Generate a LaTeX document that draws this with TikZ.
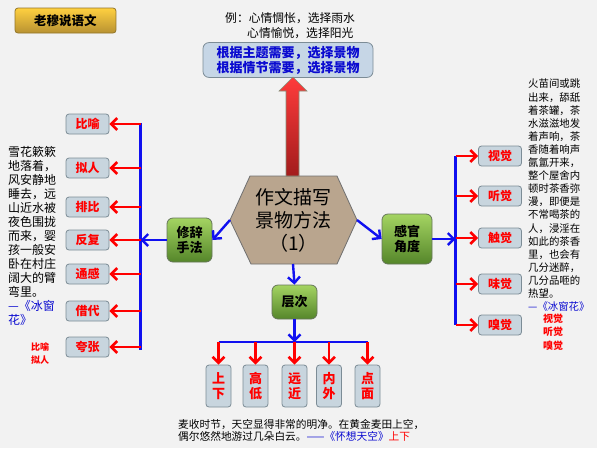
\documentclass[tikz,border=0pt]{standalone}
\usepackage{fontspec}
\setmainfont{Noto Sans CJK SC}
\usetikzlibrary{arrows.meta}
\definecolor{bgcol}{HTML}{F2F2F2}
\definecolor{boxfill}{HTML}{C8D5DE}
\definecolor{boxline}{HTML}{7C8C96}
\definecolor{goalfill}{HTML}{C6D6E6}
\definecolor{textblue}{HTML}{0A0AD0}
\definecolor{lineblue}{HTML}{1010F0}
\definecolor{ghi}{HTML}{A4D462}
\definecolor{glo}{HTML}{55862A}
\definecolor{gline}{HTML}{66765A}
\definecolor{hexfill}{HTML}{B9A58E}
\definecolor{hexline}{HTML}{707070}
\definecolor{goldhi}{HTML}{FFD040}
\definecolor{goldlo}{HTML}{B89232}
\definecolor{arrhi}{HTML}{FF3C3C}
\definecolor{arrlo}{HTML}{A21C1C}
\tikzset{
	lbox/.style={draw=boxline, fill=boxfill, rounded corners=3pt, line width=0.8pt, minimum width=43pt, minimum height=20pt, inner sep=0pt, text=red, font=\bfseries\fontsize{12}{12}\selectfont},
	vbox/.style={lbox, minimum width=25pt, minimum height=42pt, align=center, font=\bfseries\fontsize{13}{15}\selectfont},
	gbox/.style={draw=gline, top color=ghi, bottom color=glo, rounded corners=6pt, line width=0.8pt, inner sep=0pt, align=center, font=\bfseries\fontsize{13}{15}\selectfont},
	barline/.style={draw=lineblue, line width=2.4pt},
	bluearr/.style={barline, -{Straight Barb[length=6pt,width=12pt]}},
	redarr/.style={draw=red, line width=2.6pt, -{Straight Barb[length=6pt,width=12pt]}},
}
\begin{document}
\begin{tikzpicture}[x=1pt,y=-1pt]
	\useasboundingbox (0,0) rectangle (597,448);
	\fill[bgcol] (0,0) rectangle (597,448);
	% title and example
	\node (ttl) at (65.5,20.5) [draw=goldlo!80!black, top color=goldhi, bottom color=goldlo, rounded corners=3pt, line width=0.8pt, minimum width=101pt, minimum height=25pt, font=\bfseries\fontsize{12.5}{13}\selectfont] {老穆说语文};
	\node (ex1) at (225,18) [anchor=west, inner sep=0pt, font=\fontsize{11.8}{12}\selectfont] {例：心情惆怅，选择雨水};
	\node (ex2) at (247,33) [anchor=west, inner sep=0pt, font=\fontsize{11.8}{12}\selectfont] {心情愉悦，选择阳光};
	\node (goal) at (288,60) [draw=boxline, fill=goalfill, rounded corners=6pt, line width=0.8pt, minimum width=170pt, minimum height=34pt, align=center, text=textblue, font=\bfseries\fontsize{13}{15}\selectfont] {根据主题需要，选择景物\\根据情节需要，选择景物};
	% hexagon
	\coordinate (hexL) at (230,220);
	\coordinate (hexTL) at (250,176);
	\coordinate (hexTR) at (337,176);
	\coordinate (hexR) at (357,220);
	\coordinate (hexBR) at (337,264);
	\coordinate (hexBL) at (251,264);
	\coordinate (hexB) at (293,264);
	\draw[draw=hexline, fill=hexfill, line width=0.8pt] (hexL) -- (hexTL) -- (hexTR) -- (hexR) -- (hexBR) -- (hexBL) -- cycle;
	\node (hex) at (293.5,220) [align=center, font=\fontsize{19}{23}\selectfont] {作文描写\\景物方法\\（1）};
	% big arrow up
	\draw[draw=gline!80, top color=arrhi, bottom color=arrlo, line width=0.6pt] (286,176) -- (286,91) -- (279,91) -- (293,77) -- (307,91) -- (299,91) -- (299,176) -- cycle;
	% three branches
	\node (xiuci) at (189.5,240) [gbox, minimum width=45pt, minimum height=44pt] {修辞\\手法};
	\node (ganguan) at (407,239) [gbox, minimum width=50pt, minimum height=50pt] {感官\\角度};
	\node (cengci) at (294.5,302) [gbox, minimum width=45pt, minimum height=34pt] {层次};
	\draw[bluearr] (hexL) -- (xiuci.east);
	\draw[bluearr] (hexR) -- (ganguan.west);
	\draw[bluearr] (hexB) -- (cengci.north);
	% left side
	\node (b1) at (87.5,124) [lbox] {比喻};
	\node (b2) at (87.5,168) [lbox] {拟人};
	\node (b3) at (87.5,207) [lbox] {排比};
	\node (b4) at (87.5,240) [lbox] {反复};
	\node (b5) at (87.5,274) [lbox] {通感};
	\node (b6) at (87.5,311) [lbox] {借代};
	\node (b7) at (87.5,347) [lbox] {夸张};
	\coordinate (lt) at (140.5,123);
	\coordinate (lb) at (140.5,350);
	\draw[barline] (lt) -- (lb);
	\draw[bluearr] (xiuci.west) -- (lt |- xiuci.west);
	\draw[redarr] (lt |- b1.east) -- (b1.east);
	\draw[redarr] (lt |- b2.east) -- (b2.east);
	\draw[redarr] (lt |- b3.east) -- (b3.east);
	\draw[redarr] (lt |- b4.east) -- (b4.east);
	\draw[redarr] (lt |- b5.east) -- (b5.east);
	\draw[redarr] (lt |- b6.east) -- (b6.east);
	\draw[redarr] (lt |- b7.east) -- (b7.east);
	\node (ltxt) at (8,146) [anchor=north west, inner sep=0pt, align=left, font=\fontsize{12}{14}\selectfont] {雪花簌簌\\地落着，\\风安静地\\睡去，远\\山近水被\\夜色围拢\\而来，婴\\孩一般安\\卧在村庄\\阔大的臂\\弯里。\\{\color{textblue}—《冰窗}\\{\color{textblue}花》}};
	\node (lnote) at (40,354) [align=center, text=red, font=\bfseries\fontsize{9}{13}\selectfont] {比喻\\拟人};
	% right side
	\node (s1) at (500,156) [lbox] {视觉};
	\node (s2) at (500,196) [lbox] {听觉};
	\node (s3) at (500,238) [lbox] {触觉};
	\node (s4) at (500,284) [lbox] {味觉};
	\node (s5) at (500,325) [lbox] {嗅觉};
	\coordinate (rt) at (455.5,156);
	\coordinate (rb) at (455.5,325);
	\draw[barline] (rt) -- (rb);
	\draw[bluearr] (ganguan.east) -- (rt |- ganguan.east);
	\draw[redarr] (rt |- s1.west) -- (s1.west);
	\draw[redarr] (rt |- s2.west) -- (s2.west);
	\draw[redarr] (rt |- s3.west) -- (s3.west);
	\draw[redarr] (rt |- s4.west) -- (s4.west);
	\draw[redarr] (rt |- s5.west) -- (s5.west);
	\node (rtxt) at (528,79) [anchor=north west, inner sep=0pt, align=left, font=\fontsize{10.4}{13.1}\selectfont] {火苗间或跳\\出来，舔舐\\着茶罐，茶\\水滋滋地发\\着声响，茶\\香随着响声\\氤氲开来，\\整个屋舍内\\顿时茶香弥\\漫，即便是\\不常喝茶的\\人，浸淫在\\如此的茶香\\里，也会有\\几分迷醉，\\几分品咂的\\热望。\\{\color{textblue}—《冰窗花》}};
	\node (rnote) at (553,332) [align=center, text=red, font=\bfseries\fontsize{10}{13.5}\selectfont] {视觉\\听觉\\嗅觉};
	% bottom
	\node (c1) at (218.5,386) [vbox] {上\\下};
	\node (c2) at (255.5,386) [vbox] {高\\低};
	\node (c3) at (294.5,386) [vbox] {远\\近};
	\node (c4) at (329,386) [vbox] {内\\外};
	\node (c5) at (367.5,386) [vbox] {点\\面};
	\coordinate (hl) at (218.5,342);
	\coordinate (hr) at (367.5,342);
	\draw[barline] (hl) -- (hr);
	\draw[bluearr] (cengci.south) -- (cengci.south |- hl);
	\draw[redarr] (hl -| c1.north) -- (c1.north);
	\draw[redarr] (hl -| c2.north) -- (c2.north);
	\draw[redarr] (hl -| c3.north) -- (c3.north);
	\draw[redarr] (hl -| c4.north) -- (c4.north);
	\draw[redarr] (hl -| c5.north) -- (c5.north);
	\node (btxt) at (178,419) [anchor=north west, inner sep=0pt, align=left, font=\fontsize{10.7}{12}\selectfont] {麦收时节，天空显得非常的明净。在黄金麦田上空，\\偶尔悠然地游过几朵白云。{\color{textblue}——《怀想天空》}{\color{red}上下}};
\end{tikzpicture}
\end{document}
